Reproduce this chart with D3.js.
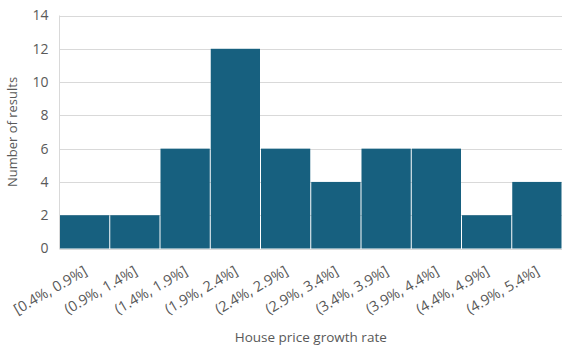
<!DOCTYPE html>
<html><head><meta charset="utf-8">
<script src="https://cdn.jsdelivr.net/npm/d3@7"></script>
<style>body{margin:0;background:#fff}svg text{font-family:"Open Sans",sans-serif;fill:#595959}</style>
</head><body><svg id="c" width="567" height="347"></svg>
<script>
const categories = ["[0.4%, 0.9%]","(0.9%, 1.4%]","(1.4%, 1.9%]","(1.9%, 2.4%]","(2.4%, 2.9%]","(2.9%, 3.4%]","(3.4%, 3.9%]","(3.9%, 4.4%]","(4.4%, 4.9%]","(4.9%, 5.4%]"];
const counts = [2,2,6,12,6,4,6,6,2,4];
const yTicks = [0,2,4,6,8,10,12,14];

const svg = d3.select("#c");
const m = {l:59.5, r:562, t:15.5, b:248.5};
const x = d3.scaleBand().domain(categories).range([m.l, m.r]).padding(0);
const y = d3.scaleLinear().domain([0,14]).range([m.b, m.t]);

svg.append("g").selectAll("line").data(yTicks).join("line")
  .attr("x1", m.l).attr("x2", m.r)
  .attr("y1", d=>Math.round(y(d))+0.5).attr("y2", d=>Math.round(y(d))+0.5)
  .attr("stroke", "#d9d9d9").attr("stroke-width", 1);
svg.append("line").attr("x1", m.l).attr("x2", m.l).attr("y1", m.t).attr("y2", m.b+0.5)
  .attr("stroke","#d9d9d9");

svg.append("g").selectAll("rect").data(counts).join("rect")
  .attr("x", (d,i)=>x(categories[i])+0.5)
  .attr("width", x.bandwidth()-1)
  .attr("y", d=>y(d))
  .attr("height", d=>y(0)-y(d))
  .attr("fill", "#17607f");

const yAxis = svg.append("g").attr("transform",`translate(${m.l},0)`)
  .call(d3.axisLeft(y).tickValues(yTicks).tickSize(0).tickPadding(11));
yAxis.select(".domain").remove();
yAxis.selectAll("text").style("font-size","14px").attr("fill","#595959");

const xAxis = svg.append("g").attr("transform",`translate(0,${m.b})`)
  .call(d3.axisBottom(x).tickSize(0));
xAxis.select(".domain").remove();
xAxis.selectAll("text")
  .style("font-size","14.5px").attr("fill","#595959")
  .attr("text-anchor","end")
  .attr("transform","translate(1,21) rotate(-30)")
  .attr("dy","0.35em").attr("y",0);

svg.append("text").attr("x",(m.l+m.r)/2).attr("y",342)
  .attr("text-anchor","middle").style("font-size","13.5px").text("House price growth rate");
svg.append("text").attr("transform",`translate(17,${(m.t+m.b)/2}) rotate(-90)`)
  .attr("text-anchor","middle").style("font-size","13px").text("Number of results");
</script></body></html>
